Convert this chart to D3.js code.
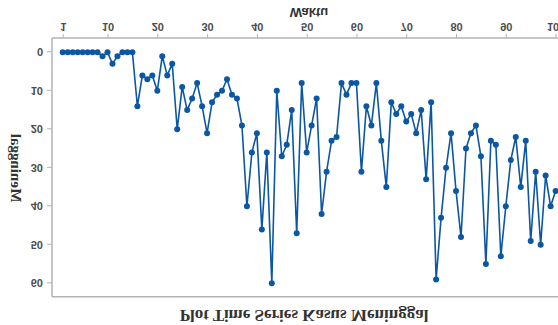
<!DOCTYPE html>
<html><head><meta charset="utf-8">
<script src="https://cdn.jsdelivr.net/npm/d3@7"></script>
<style>body{margin:0;background:#fff}svg{display:block}</style>
</head><body>
<svg id="c" width="558" height="325"></svg>
<script>
const waktu = d3.range(1, 101);
const meninggal = [
 0,0,0,0,0,0,0,0,1,0, 3,1,0,0,0,14,6,7,6,10,
 1,6,3,20,9,15,12,8,14,21, 13,11,10,7,11,12,19,40,26,21,
 46,26,60,10,27,24,15,47,8,26, 19,12,42,31,23,22,8,11,8,8,
 31,14,19,8,23,35,13,16,14,18, 16,21,15,33,13,59,43,30,21,36,
 48,25,21,19,27,55,23,24,53,40, 28,22,35,23,49,31,50,32,40,36
];
const xTicks = [1,10,20,30,40,50,60,70,80,90,100];
const yTicks = [0,10,20,30,40,50,60];

(function(){
const svg = d3.select("#c");
// whole chart is mirrored vertically
const g = svg.append("g").attr("transform","matrix(1,0,0,-1,0,325)");

const pL = 52, pR = 566, pT = 28.3, axisY = 287;
const x = d3.scaleLinear().domain([1,100]).range([62.7,555.6]);
const y = d3.scaleLinear().domain([0,60]).range([272.7,41.7]);

// frame
g.append("line").attr("x1",pL).attr("x2",pR).attr("y1",pT).attr("y2",pT).attr("stroke","#b3b3b3").attr("stroke-width",1.5);

const xa = g.append("g").attr("transform",`translate(0,${axisY})`).call(d3.axisBottom(x).tickValues(xTicks).tickSize(4).tickPadding(3).tickFormat(d3.format("d")));
const ya = g.append("g").attr("transform",`translate(${pL},0)`).call(d3.axisLeft(y).tickValues(yTicks).tickSize(5).tickPadding(4));
[xa,ya].forEach(a=>{
  a.select(".domain").attr("stroke","#b3b3b3").attr("stroke-width",1.5);
  a.selectAll(".tick line").attr("stroke","#b3b3b3");
  a.selectAll("text").attr("fill","#4d4d4d").style("font-family","Liberation Sans, Arial, sans-serif").style("font-size","11px").style("font-weight","bold");
});
xa.select(".domain").attr("d",`M${pL},0H${pR}`);
ya.select(".domain").attr("d",`M0,${pT}V${axisY}`);

// line & points
g.append("path").datum(meninggal).attr("fill","none").attr("stroke","#0b57a4").attr("stroke-width",1.6)
  .attr("d", d3.line().x((d,i)=>x(waktu[i])).y(d=>y(d)));
g.selectAll("circle.pt").data(meninggal).join("circle").attr("class","pt")
  .attr("cx",(d,i)=>x(waktu[i])).attr("cy",d=>y(d)).attr("r",3).attr("fill","#0b57a4");

// labels
g.append("text").attr("x",304).attr("y",10).attr("text-anchor","middle").attr("dominant-baseline","central")
  .style("font-family","Liberation Serif, serif").style("font-weight","bold").style("font-size","17px").attr("fill","#333")
  .text("Plot Time Series Kasus Meninggal");
g.append("text").attr("x",309).attr("y",312.5).attr("text-anchor","middle").attr("dominant-baseline","central")
  .style("font-family","Liberation Sans, Arial, sans-serif").style("font-weight","bold").style("font-size","13px").attr("fill","#333")
  .text("Waktu");
g.append("text").attr("transform","translate(16,157) rotate(90)").attr("text-anchor","middle").attr("dominant-baseline","central")
  .style("font-family","Liberation Serif, serif").style("font-weight","bold").style("font-size","15px").attr("fill","#333")
  .text("Meninggal");
})();
</script>
</body></html>
